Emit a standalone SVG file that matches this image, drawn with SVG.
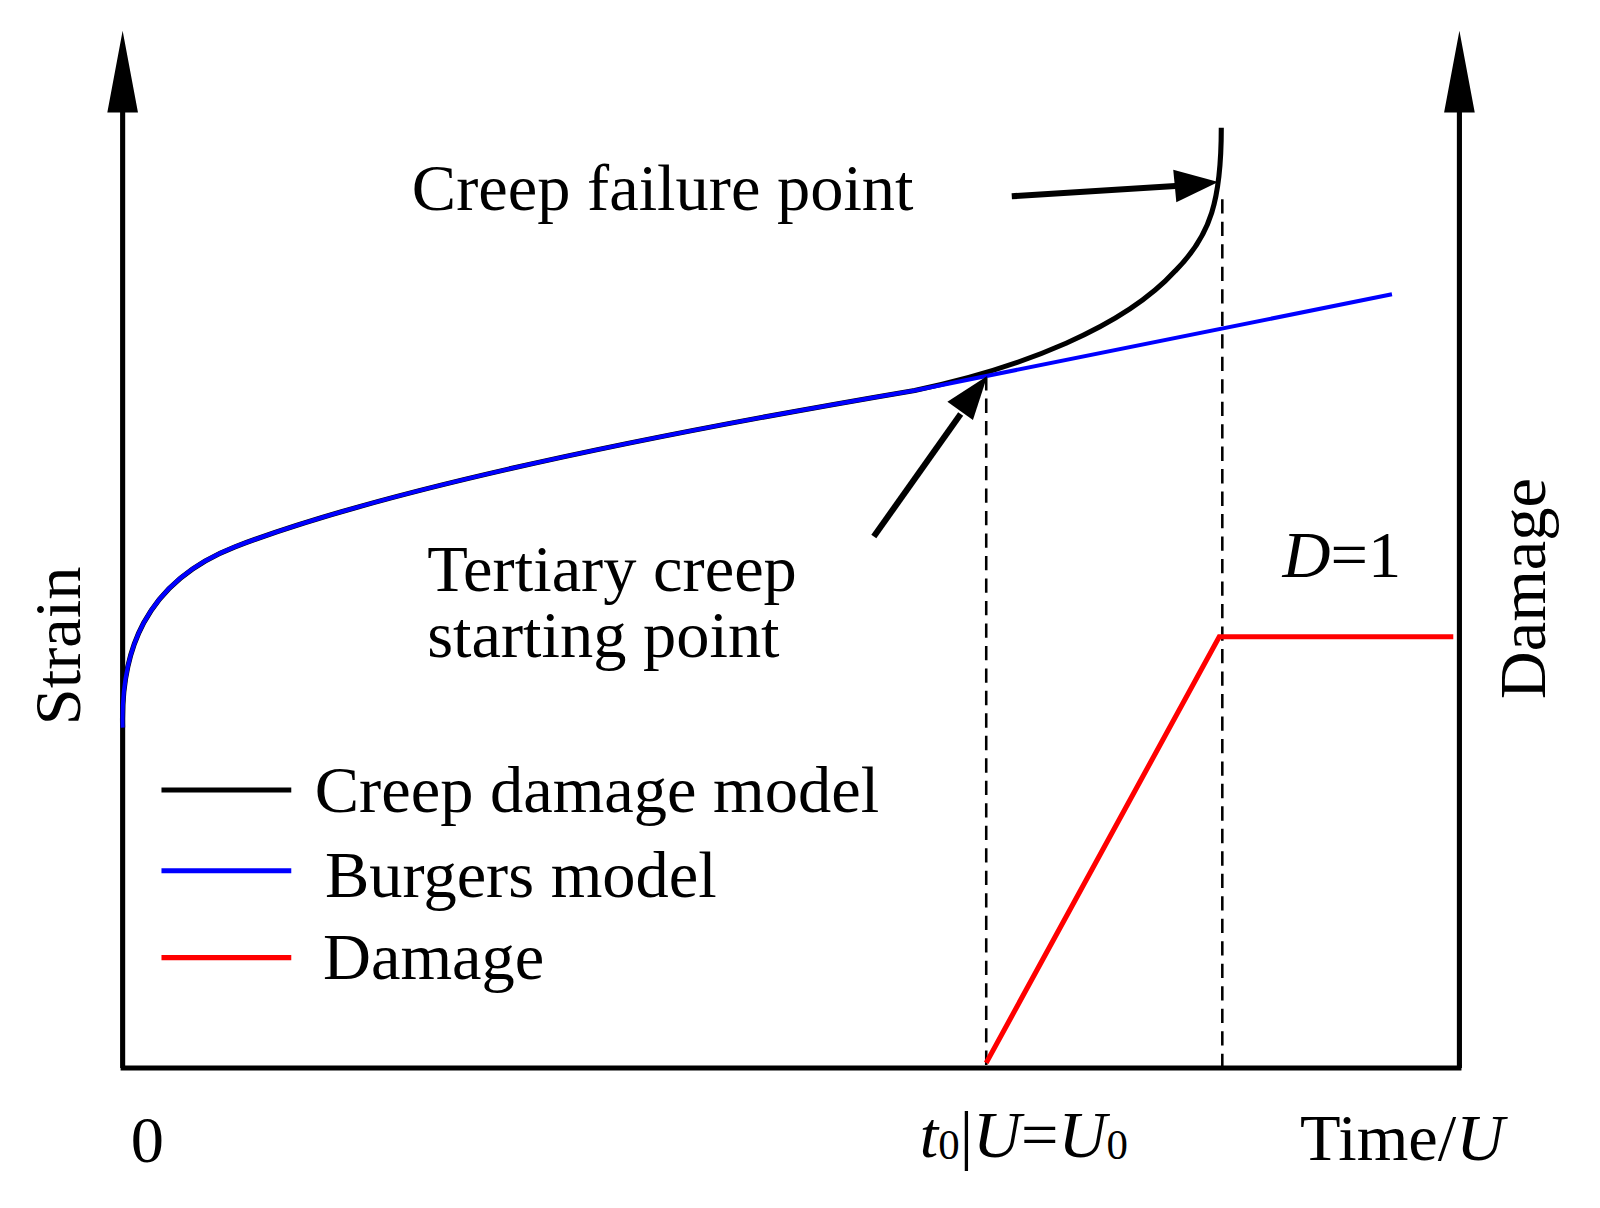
<svg xmlns="http://www.w3.org/2000/svg" width="1600" height="1208" viewBox="0 0 1600 1208">
<style>
text{font-family:"Liberation Serif","Times New Roman",serif;font-size:65px;fill:#000}
.ax{stroke:#000;stroke-width:5;fill:none}
.dash{stroke:#000;stroke-width:2.5;stroke-dasharray:14,8;fill:none}
</style>
<rect width="1600" height="1208" fill="#fff"/>
<g transform="scale(1.022)">
<g id="axes">
<path class="ax" d="M120,1045 V100 M1428,1045 V100 M118,1045 H1430"/>
<path d="M120,30 L105,110 L135,110 z M1428,30 L1413,110 L1443,110 z" fill="#000"/>
</g>
<g id="connectors">
<path class="dash" d="M965,368 V1045 M1196,195 V1045"/>
<path d="M120,712 C118,640 140,570 230,535 C400,470 700,415 895,382 C1000,360 1100,320 1150,265 C1185,230 1195,195 1195,125" stroke="#000" stroke-width="5" fill="none"/>
<path d="M120,712 C118,640 140,570 230,535 C400,470 700,415 895,382 L1362,288" stroke="#0000ff" stroke-width="4" fill="none"/>
<path d="M965,1040 L1193,623 H1422" stroke="#ff0000" stroke-width="5" fill="none"/>
<path d="M990,192 L1150,182" stroke="#000" stroke-width="6"/>
<path d="M1192,178 L1148,166 L1151,198 z" fill="#000"/>
<path d="M855,525 L940,405" stroke="#000" stroke-width="6"/>
<path d="M966,368 L927,393 L952,411 z" fill="#000"/>
</g>
<g id="legend">
<path d="M158,773 H285" stroke="#000" stroke-width="5"/>
<path d="M158,852 H285" stroke="#0000ff" stroke-width="5"/>
<path d="M158,937 H285" stroke="#ff0000" stroke-width="5"/>
<text x="308" y="795">Creep damage model</text>
<text x="318" y="878">Burgers model</text>
<text x="316" y="958">Damage</text>
</g>
<g id="labels">
<text x="403" y="205">Creep failure point</text>
<text x="418" y="578">Tertiary creep</text>
<text x="418" y="643">starting point</text>
<text x="1255" y="565"><tspan font-style="italic">D</tspan>=1</text>
<text transform="translate(78,632) rotate(-90)" text-anchor="middle">Strain</text>
<text transform="translate(1512,576) rotate(-90)" text-anchor="middle">Damage</text>
<text x="128" y="1137">0</text>
<text x="900" y="1132"><tspan font-style="italic">t</tspan><tspan font-size="42" dy="2">0</tspan><tspan dy="-2">|</tspan><tspan font-style="italic">U</tspan>=<tspan font-style="italic">U</tspan><tspan font-size="42" dy="2">0</tspan></text>
<text x="1272" y="1135">Time/<tspan font-style="italic">U</tspan></text>
</g>
</g>
</svg>
